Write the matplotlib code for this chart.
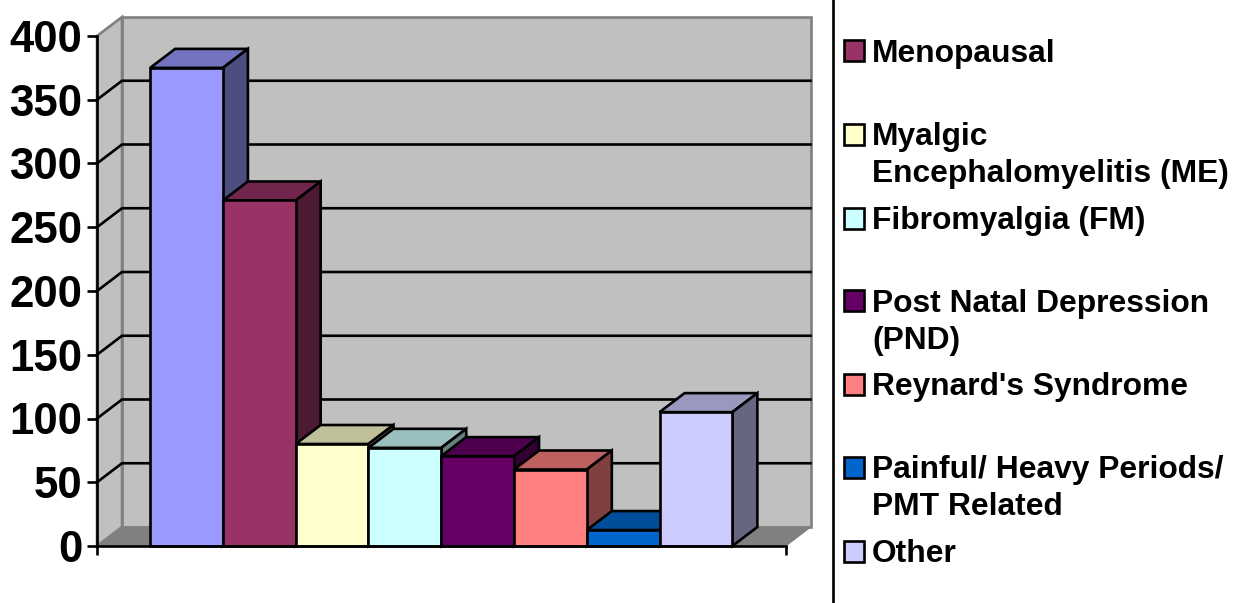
import matplotlib
matplotlib.use('Agg')
import matplotlib.pyplot as plt
from matplotlib.patches import Polygon, Rectangle
from matplotlib.colors import to_rgb

plt.rcParams['font.family'] = ['Liberation Sans', 'DejaVu Sans']
plt.rcParams['font.weight'] = 'bold'

values = [375, 271, 80, 77, 70.5, 60, 12.5, 105]
colors = ['#9999FF', '#993366', '#FFFFCC', '#CCFFFF', '#660066', '#FF8080', '#0066CC', '#CCCCFF']
y_ticks = [0, 50, 100, 150, 200, 250, 300, 350, 400]

# first bar has no entry, the legend is cut off above Menopausal
legend_labels = ['Menopausal', 'Myalgic\nEncephalomyelitis (ME)', 'Fibromyalgia (FM)',
                 'Post Natal Depression\n(PND)', "Reynard's Syndrome",
                 'Painful/ Heavy Periods/\nPMT Related', 'Other']
legend_colors = colors[1:]
legend_y = [50.5, 134, 218, 300, 384, 467, 551]
legend_text_y = [54, 155.5, 221, 322.5, 387, 488.5, 554]

W, H = 1234, 603
LW = 1.9  # a bit over 2 px

fig = plt.figure(figsize=(W / 100, H / 100), dpi=100)
ax = fig.add_axes([97 / W, 1 - 546 / H, (785.5 - 97) / W, 510 / H])
gap = 0.73
ax.set_xlim(-gap, len(values) + gap)
ax.set_ylim(0, 400)

# depth of the fake 3d box, 25 px right and 19 px up
dx = 25 / ((785.5 - 97) / (len(values) + 2 * gap))
dy = 19 / (510 / 400)
x0, x1 = ax.get_xlim()


def poly(points, fc, ec='black', lw=LW, z=2):
    ax.add_patch(Polygon(points, closed=True, facecolor=fc, edgecolor=ec, linewidth=lw,
                         joinstyle='miter', clip_on=False, zorder=z))


def shade(c, f):
    return tuple(v * f for v in to_rgb(c))


# walls and floor
poly([(x0 + dx, dy), (x1 + dx, dy), (x1 + dx, 400 + dy), (x0 + dx, 400 + dy)], '#C0C0C0', '#808080', 1.9, 1)
poly([(x0, 0), (x0 + dx, dy), (x0 + dx, 400 + dy), (x0, 400)], '#C0C0C0', '#808080', 1.9, 1)
poly([(x0, 0), (x0 + dx, dy), (x1 + dx, dy), (x1, 0)], '#808080', '#808080', 1, 1)

for t in y_ticks[1:-1]:
    ax.plot([x0, x0 + dx, x1 + dx], [t, t + dy, t + dy], color='black', lw=LW,
            clip_on=False, zorder=1.5, solid_joinstyle='miter')

# bars, left to right so the next front covers the last side
for i, (v, c) in enumerate(zip(values, colors)):
    z = 3 + i
    poly([(i, v), (i + dx, v + dy), (i + 1 + dx, v + dy), (i + 1, v)], shade(c, 0.75), z=z)
    poly([(i + 1, 0), (i + 1 + dx, dy), (i + 1 + dx, v + dy), (i + 1, v)], shade(c, 0.5), z=z)
    poly([(i, 0), (i + 1, 0), (i + 1, v), (i, v)], c, z=z)

ax.patch.set_visible(False)
for s in ['top', 'right']:
    ax.spines[s].set_visible(False)
for s in ['left', 'bottom']:
    ax.spines[s].set_linewidth(LW)
    ax.spines[s].set_zorder(20)
ax.set_yticks(y_ticks)
ax.set_xticks([x0, x1])
ax.set_xticklabels([])
ax.tick_params(axis='y', length=7, width=LW, pad=3.5, labelsize=31.5)
ax.tick_params(axis='x', length=6.5, width=LW)

# legend sits on its own pixel sized layer
lg = fig.add_axes([0, 0, 1, 1])
lg.set_xlim(0, W)
lg.set_ylim(H, 0)
lg.axis('off')
lg.plot([833, 833], [0, H], color='black', lw=LW)
for label, c, ys, yt in zip(legend_labels, legend_colors, legend_y, legend_text_y):
    lg.add_patch(Rectangle((843.5, ys - 10.5), 20, 21, facecolor=c, edgecolor='black', linewidth=LW))
    lg.text(872, yt, label, fontsize=22.9, va='center', ha='left', linespacing=1.27)

fig.savefig('out.png', dpi=100)
